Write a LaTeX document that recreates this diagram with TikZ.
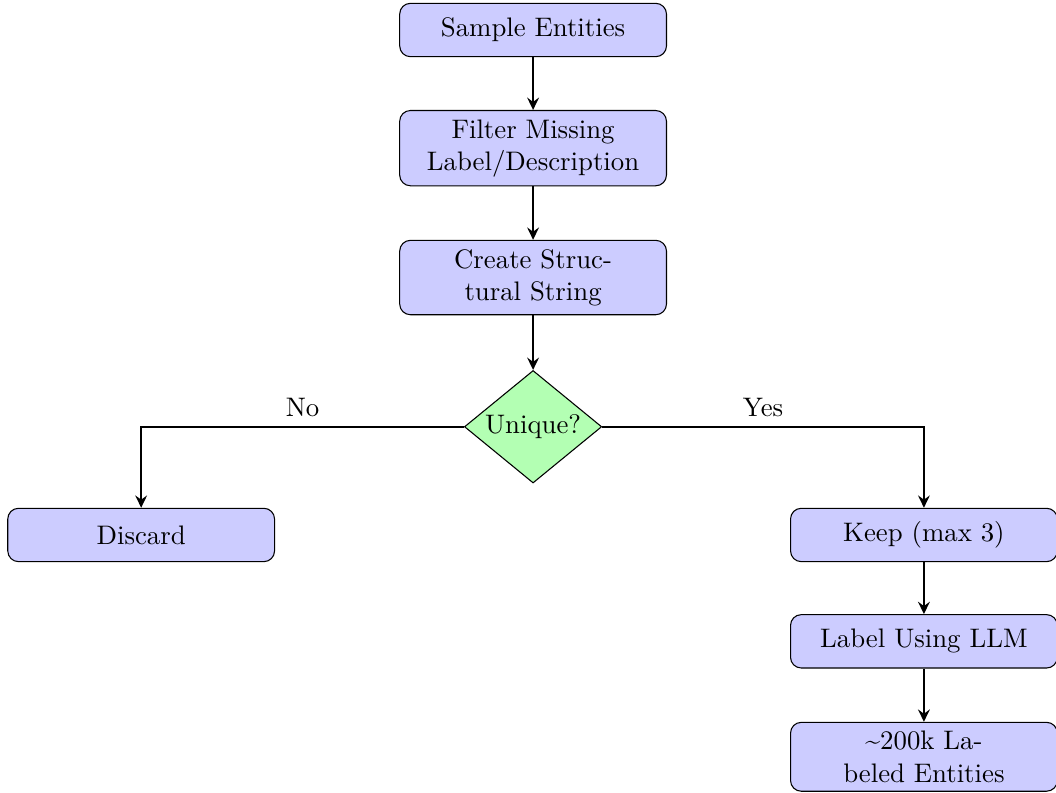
\documentclass[tikz,border=0pt]{standalone}
\usetikzlibrary{shapes.geometric,arrows.meta}
\definecolor{boxfill}{RGB}{204,204,255}
\definecolor{decfill}{RGB}{179,255,179}
\tikzset{
  procbox/.style={rectangle, rounded corners=4pt, draw=black, fill=boxfill,
    minimum width=3.5cm, minimum height=0.7cm, align=center, inner sep=3.33pt},
  decbox/.style={diamond, draw=black, fill=decfill, aspect=1.22, inner sep=1pt, align=center},
  flow/.style={thick, -{Stealth[length=4.6pt,width=4.4pt,inset=1.6pt]}}
}
\begin{document}
\begin{tikzpicture}
\useasboundingbox (-199.0pt,-136.4pt) rectangle (195.2pt,159.3pt);
\node[procbox] (sample) at (0pt,148.1pt) {Sample Entities};
\node[procbox] (filter) at (0pt,104.0pt) {Filter Missing\\Label/Description};
\node[procbox] (create) at (0pt,55.7pt) {Create Struc-\\tural String};
\node[decbox] (unique) at (0pt,0pt) {Unique?};
\node[procbox] (discard) at (-146.3pt,-40.4pt) {Discard};
\node[procbox] (keep) at (145.9pt,-40.4pt) {Keep (max 3)};
\node[procbox] (llm) at (145.9pt,-80.1pt) {Label Using LLM};
\node[procbox] (result) at (145.9pt,-123.2pt) {\textasciitilde200k La-\\beled Entities};
\draw[flow] (sample) -- (filter);
\draw[flow] (filter) -- (create);
\draw[flow] (create) -- (unique);
\draw[flow] (unique.west) -| node[pos=0.25, above] {No} (discard.north);
\draw[flow] (unique.east) -| node[pos=0.25, above] {Yes} (keep.north);
\draw[flow] (keep) -- (llm);
\draw[flow] (llm) -- (result);
\end{tikzpicture}
\end{document}
